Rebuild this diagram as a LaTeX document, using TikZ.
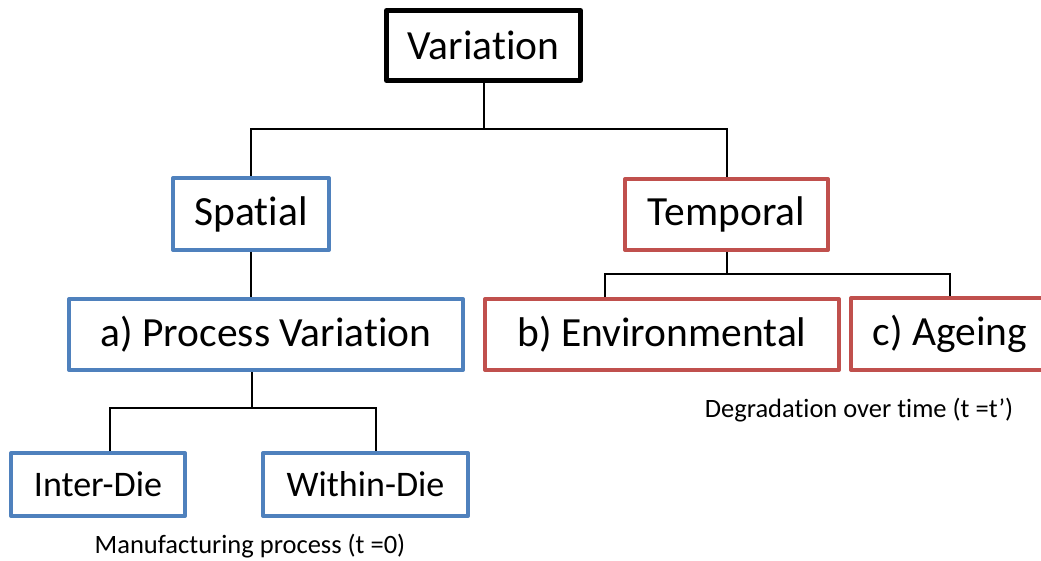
\documentclass[tikz,border=0pt]{standalone}
\usepackage{fontspec}
\setmainfont{Carlito}[RawFeature={-liga;-clig;-dlig}]
\definecolor{boxblue}{HTML}{4F81BD}
\definecolor{boxred}{HTML}{C0504D}
\begin{document}
\begin{tikzpicture}[x=1pt,y=-1pt,
  box/.style={draw, line width=4pt, line join=round, fill=white, inner sep=0pt,
              font=\fontsize{41.5}{48}\selectfont},
  topbox/.style={box, draw=black, line width=5pt},
  spbox/.style={box, draw=boxblue},
  tmbox/.style={box, draw=boxred},
  leafbox/.style={spbox, font=\fontsize{36}{42}\selectfont},
  link/.style={draw=black, line width=2pt},
  note/.style={font=\fontsize{26.5}{30}\selectfont}]
\useasboundingbox (0,0) rectangle (1041,561);
\clip (0,0) rectangle (1041,561);

% boxes
\node[topbox, minimum width=194pt, minimum height=70pt] (var) at (483.5,45.5) {Variation};
\node[spbox, minimum width=156pt, minimum height=72pt] (sp) at (251,214) {Spatial};
\node[tmbox, minimum width=203pt, minimum height=71pt] (tp) at (726.5,214.5) {Temporal};
\node[spbox, minimum width=394pt, minimum height=71pt] (pv) at (266,334.5) {a) Process Variation};
\node[tmbox, minimum width=354pt, minimum height=71pt] (env) at (662,334.5) {b) Environmental};
\node[tmbox, minimum width=198pt, minimum height=72pt] (age) at (950,334) {c) Ageing};
\node[leafbox, minimum width=174pt, minimum height=63pt] (inter) at (98,484.5) {Inter-Die};
\node[leafbox, minimum width=205pt, minimum height=63pt] (within) at (365.5,484.5) {Within-Die};

% captions
\node[note] (mfg) at (250,546) {Manufacturing process (t =0)};
\node[note] (deg) at (859,410) {Degradation over time (t =t’)};

% junction levels
\coordinate (vbus) at (0,129);
\coordinate (tbus) at (0,274);
\coordinate (pbus) at (0,408);
\coordinate (envtap) at ([xshift=122pt]env.north west);
\coordinate (pvtap) at ([xshift=-14pt]pv.south);
\coordinate (intertap) at ([xshift=12pt]inter.north);
\coordinate (withintap) at ([xshift=10.5pt]within.north);

% connectors
\draw[link] (var.south) -- (var.south |- vbus);
\draw[link] (sp.north) |- (vbus -| tp.north) -- (tp.north);
\draw[link] (sp.south) -- (sp.south |- pv.north);
\draw[link] (tp.south) -- (tp.south |- tbus);
\draw[link] (envtap) |- (tbus -| age.north) -- (age.north);
\draw[link] (pvtap) -- (pvtap |- pbus);
\draw[link] (intertap) |- (pbus -| withintap) -- (withintap);
\end{tikzpicture}
\end{document}
